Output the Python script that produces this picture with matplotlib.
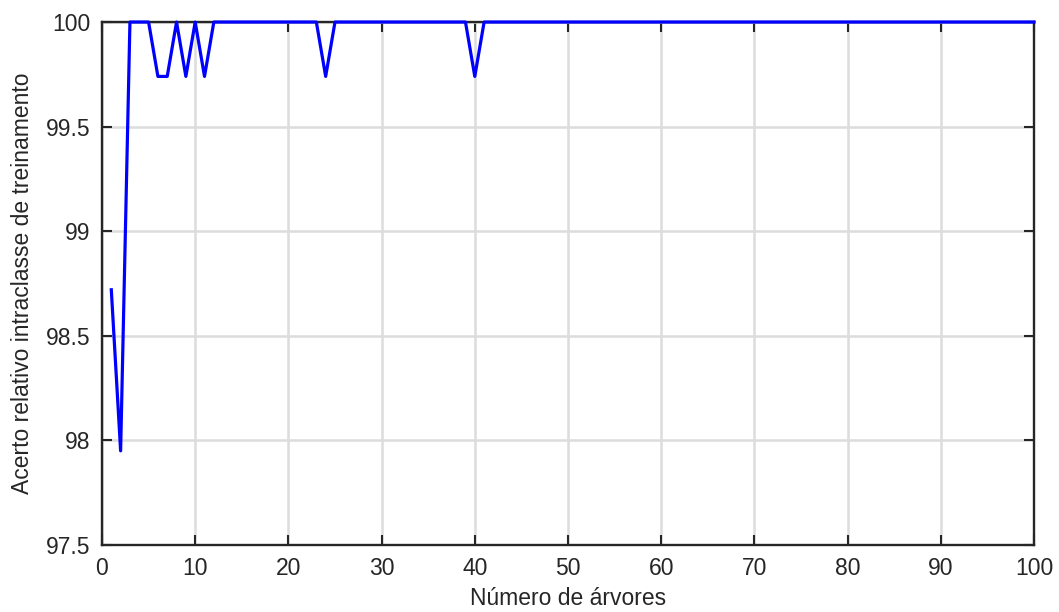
"""Training intra-class accuracy versus number of trees."""

import matplotlib

matplotlib.use("Agg")
import matplotlib.pyplot as plt

# number of trees 1..100
n_trees = list(range(1, 101))

# accuracy for the first 12 trees
first_values = [98.72, 97.95, 100.0, 100.0, 100.0, 99.74, 99.74, 100.0, 99.74, 100.0, 99.74, 100.0]
# later single dips (tree number -> accuracy)
dip_trees = [24, 40]
dip_value = 99.74

accuracy = first_values + [100.0] * (len(n_trees) - len(first_values))
for t in dip_trees:
    accuracy[t - 1] = dip_value

x_ticks = list(range(0, 101, 10))
y_ticks = [97.5, 98, 98.5, 99, 99.5, 100]
y_tick_labels = ["97.5", "98", "98.5", "99", "99.5", "100"]

plt.rcParams["font.family"] = ["Liberation Sans", "DejaVu Sans"]

fig = plt.figure(figsize=(10.59, 6.12), dpi=100)
ax = fig.add_axes([0.0963, 0.1095, 0.8801, 0.8545])

ax.plot(n_trees, accuracy, color="#0000ff", lw=2.3, clip_on=False, zorder=3)

ax.set_xlim(0, 100)
ax.set_ylim(97.5, 100)
ax.set_xticks(x_ticks)
ax.set_yticks(y_ticks)
ax.set_yticklabels(y_tick_labels)
ax.grid(True, color="#dcdcdc", lw=1.8)
ax.set_axisbelow(True)
ax.tick_params(direction="in", length=7, width=1.5, top=True, right=True,
               labelsize=16.5, colors="#262626")
ax.tick_params(axis="x", pad=9)
ax.tick_params(axis="y", pad=8)
for spine in ax.spines.values():
    spine.set_linewidth(1.7)
    spine.set_color("#262626")

ax.set_xlabel("Número de árvores", fontsize=16.5, color="#262626", labelpad=5)
ax.set_ylabel("Acerto relativo intraclasse de treinamento", fontsize=16.5, color="#262626", labelpad=9)

fig.savefig("out.png", dpi=100)
